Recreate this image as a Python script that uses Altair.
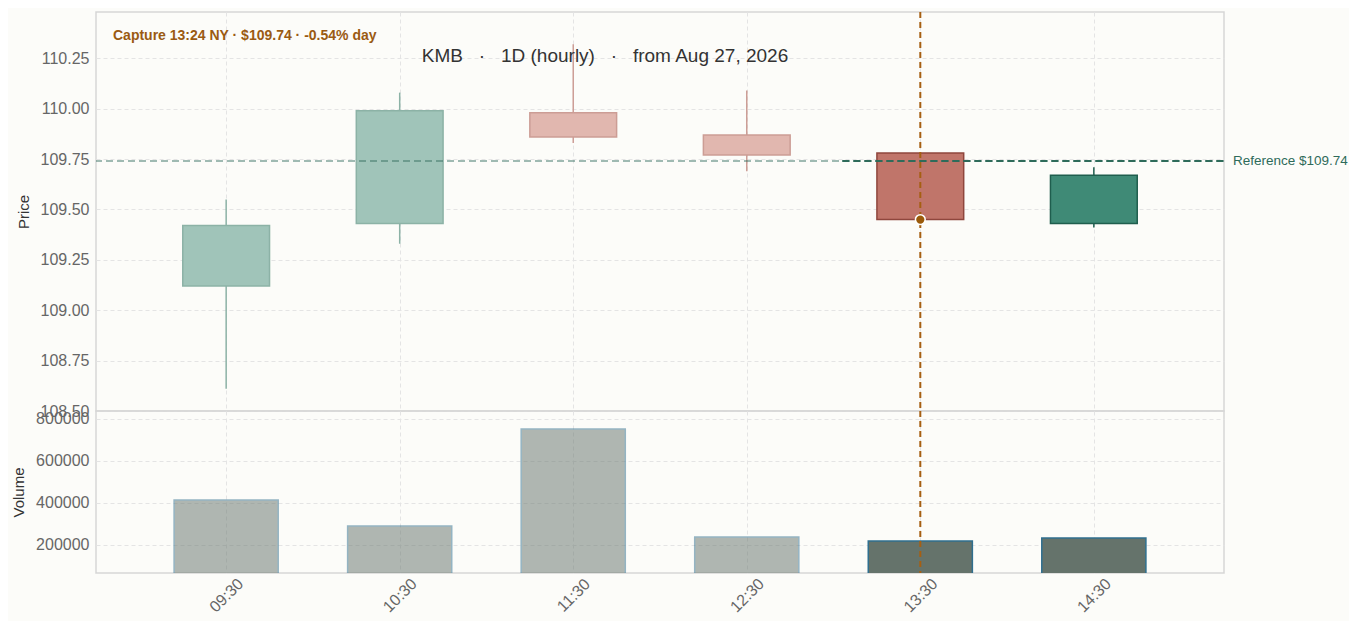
import pandas as pd
import altair as alt

# --- data ---
DAY = "2026-08-27"
times = ["09:30", "10:30", "11:30", "12:30", "13:30", "14:30"]
opens = [109.12, 109.43, 109.98, 109.87, 109.78, 109.43]
highs = [109.55, 110.08, 110.32, 110.09, 109.78, 109.71]
lows = [108.61, 109.33, 109.83, 109.69, 109.45, 109.41]
closes = [109.42, 109.99, 109.86, 109.77, 109.45, 109.67]
volumes = [414000, 290000, 752000, 238000, 219000, 233000]

capture_time = "13:24"
marker_time = "13:30"
marker_price = 109.45
ref_price = 109.74
ref_split_time = "13:03"
price_ticks = [108.50, 108.75, 109.00, 109.25, 109.50, 109.75, 110.00, 110.25]
volume_ticks = [200000, 400000, 600000, 800000]

SEP = "\u00a0\u00a0\u00a0·\u00a0\u00a0\u00a0"
capture_label = "Capture 13:24 NY · $109.74 · -0.54% day"
title_label = "KMB" + SEP + "1D (hourly)" + SEP + "from Aug 27, 2026"
ref_label = "Reference $109.74"

FONT = "Liberation Sans"
W = 1128


def ts(hm):
    return pd.Timestamp(f"{DAY} {hm}")


def dt(hm):
    h, m = hm.split(":")
    return alt.DateTime(year=2026, month=8, date=27, hours=int(h), minutes=int(m))


df = pd.DataFrame({
    "t": [ts(x) for x in times],
    "open": opens, "high": highs, "low": lows, "close": closes,
    "volume": volumes,
})
df["b0"] = df["t"] - pd.Timedelta(minutes=15)
df["b1"] = df["t"] + pd.Timedelta(minutes=15)
df["v0"] = df["t"] - pd.Timedelta(minutes=18)
df["v1"] = df["t"] + pd.Timedelta(minutes=18)
df["dir"] = ["up" if c >= o else "down" for o, c in zip(opens, closes)]
df["phase"] = ["past" if t < ts(capture_time) else "live" for t in df["t"]]
df["kind"] = df["dir"] + "-" + df["phase"]
df["base"] = 0

x_domain = [dt("08:45"), dt("15:15")]
x_ticks = [dt(x) for x in times]

kinds = ["up-past", "down-past", "up-live", "down-live"]
fill_scale = alt.Scale(domain=kinds, range=["#a0c4b9", "#e1b7af", "#3f8a76", "#c0756a"])
stroke_scale = alt.Scale(domain=kinds, range=["#8cb2a6", "#cc9d95", "#1f5e4e", "#8f463d"])
fade = alt.Opacity("phase:N", scale=alt.Scale(domain=["past", "live"], range=[0.5, 1.0]), legend=None)

x_top = alt.X("t:T", scale=alt.Scale(domain=x_domain),
              axis=alt.Axis(values=x_ticks, labels=False, title=None, minExtent=0, maxExtent=0))
y_price = alt.Y("low:Q", title="Price",
                scale=alt.Scale(domain=[108.5, 110.48], zero=False, nice=False),
                axis=alt.Axis(values=price_ticks, format=".2f"))

base = alt.Chart(df)

wicks = base.mark_rule(strokeWidth=1.5).encode(
    x=x_top, y=y_price, y2="high:Q",
    stroke=alt.Stroke("kind:N", scale=stroke_scale, legend=None),
)
bodies = base.mark_rect(strokeWidth=1.5).encode(
    x="b0:T", x2="b1:T",
    y="open:Q", y2="close:Q",
    fill=alt.Fill("kind:N", scale=fill_scale, legend=None),
    stroke=alt.Stroke("kind:N", scale=stroke_scale, legend=None),
)

ref_df = pd.DataFrame({"p": [ref_price], "t0": [ts(ref_split_time)], "t1": [ts("15:15")], "label": [ref_label]})
ref_all = alt.Chart(ref_df).mark_rule(color="#2e6b5a", strokeDash=[7, 4], strokeWidth=2, opacity=0.45).encode(
    y="p:Q"
)
ref_live = alt.Chart(ref_df).mark_rule(color="#2e6b5a", strokeDash=[7, 4], strokeWidth=2).encode(
    x="t0:T", x2="t1:T", y="p:Q"
)
ref_text = alt.Chart(ref_df).mark_text(align="left", baseline="middle", font=FONT, fontSize=13.5,
                                       color="#2e6b5a").encode(
    x=alt.value(W + 9), y="p:Q", text="label:N"
)

mark_df = pd.DataFrame({"t": [ts(marker_time)], "p": [marker_price]})
vline_top = alt.Chart(mark_df).mark_rule(color="#a65f12", strokeDash=[6, 4], strokeWidth=2).encode(x="t:T")
dot = alt.Chart(mark_df).mark_point(filled=True, size=95, fill="#9a5a0a", stroke="white",
                                    strokeWidth=1.5, opacity=1).encode(x="t:T", y="p:Q")

cap_text = alt.Chart(pd.DataFrame({"label": [capture_label]})).mark_text(
    align="left", baseline="middle", font=FONT, fontSize=14, fontWeight="bold", color="#9a5a12"
).encode(x=alt.value(17), y=alt.value(24), text="label:N")
title_text = alt.Chart(pd.DataFrame({"label": [title_label]})).mark_text(
    align="center", baseline="middle", font=FONT, fontSize=19, color="#333333"
).encode(x=alt.value(509), y=alt.value(44), text="label:N")

top = alt.layer(wicks, bodies, ref_all, ref_live, ref_text, vline_top, dot, cap_text, title_text).properties(
    width=W, height=399
)

x_bot = alt.X("v0:T", scale=alt.Scale(domain=x_domain),
              axis=alt.Axis(values=x_ticks, format="%H:%M", labelAngle=315, title=None,
                            labelAlign="center", labelBaseline="middle", labelPadding=22))
vol_bars = alt.Chart(df).mark_rect(clip=True, fill="#65736b", stroke="#2f6f8f", strokeWidth=1.5).encode(
    x=x_bot, x2="v1:T",
    y=alt.Y("volume:Q", title="Volume",
            scale=alt.Scale(domain=[66000, 838000], zero=False, nice=False),
            axis=alt.Axis(values=volume_ticks, format="d")),
    y2="base:Q",
    opacity=fade,
)
vline_bot = alt.Chart(mark_df).mark_rule(color="#a65f12", strokeDash=[6, 4], strokeWidth=2).encode(x="t:T")

bottom = alt.layer(vol_bars, vline_bot).properties(width=W, height=162)

chart = alt.vconcat(top, bottom, spacing=0, bounds="flush").properties(
    background="#fcfcf9",
    padding={"left": 2, "top": 2, "right": 0, "bottom": 5},
).configure_view(
    stroke="#d6d6d6", strokeWidth=1.5
).configure_axis(
    labelFont=FONT, labelFontSize=16, labelColor="#666666",
    titleFont=FONT, titleFontSize=15, titleColor="#333333", titleFontWeight="normal",
    titlePadding=9,
    gridColor="#e4e4e4", gridDash=[4, 3], domain=False, ticks=False, labelPadding=7
)

chart.save("out.html", embed_options={"renderer": "svg", "actions": False})
